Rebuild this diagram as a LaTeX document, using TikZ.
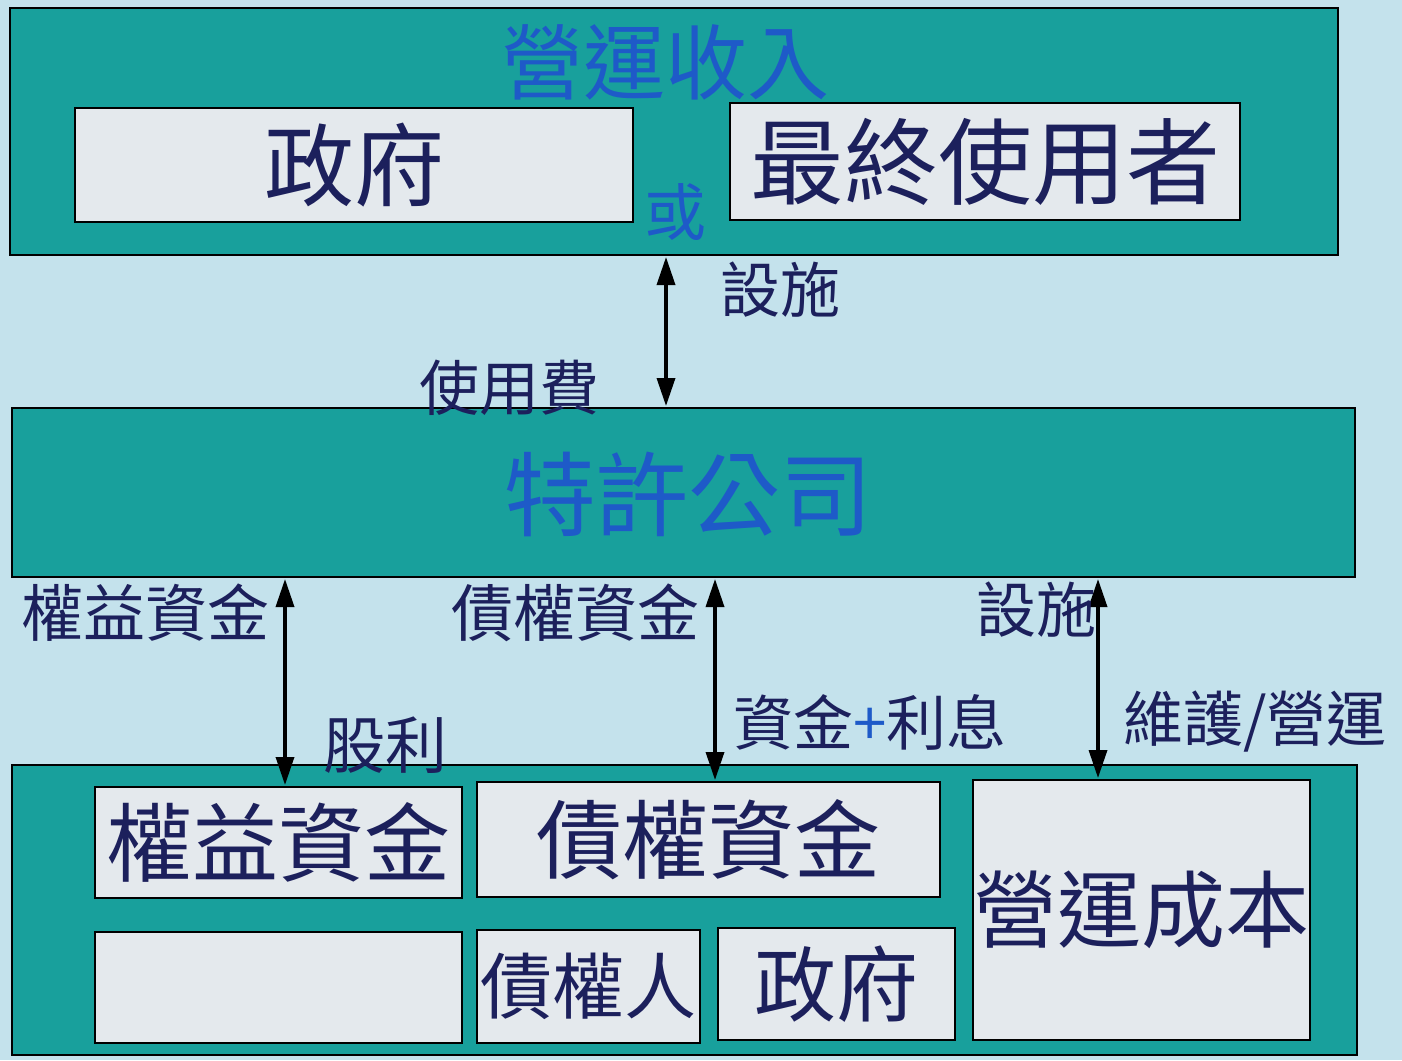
\documentclass[tikz,border=0pt]{standalone}
\usepackage{fontspec}
\newfontfamily\cjk{Noto Sans CJK TC}
\usetikzlibrary{arrows.meta}
\definecolor{bgblue}{RGB}{196,226,236}
\definecolor{teal1}{RGB}{24,160,156}
\definecolor{boxgray}{RGB}{228,233,237}
\definecolor{titleblue}{RGB}{30,90,200}
\definecolor{navy}{RGB}{28,32,92}
\tikzset{
  tealbox/.style={draw=black, line width=2pt, fill=teal1, inner sep=0pt},
  graybox/.style={draw=black, line width=2pt, fill=boxgray, inner sep=0pt, text=navy, font=\cjk},
  title/.style={text=titleblue, font=\cjk, inner sep=0pt},
  lbl/.style={text=navy, font=\cjk, inner sep=0pt},
  biarrow/.style={line width=3.5pt, draw=black, {Triangle[length=28pt,width=18pt]}-{Triangle[length=28pt,width=18pt]}, shorten <=1pt, shorten >=1pt}
}
\newcommand{\fsz}[1]{\fontsize{#1}{#1}\selectfont}
\begin{document}
\begin{tikzpicture}[x=1pt,y=-1pt]
\useasboundingbox (0,0) rectangle (1402,1060);
\fill[bgblue] (0,0) rectangle (1402,1060);

% top box
\node[tealbox, minimum width=1328pt, minimum height=247pt] (top) at (674,131.5) {};
\node[title] (ttop) at (665,62) {\fsz{82}營運收入};
\node[graybox, minimum width=558pt, minimum height=114pt] (gov1) at (354,165) {\fsz{90}政府};
\node[graybox, minimum width=510pt, minimum height=117pt] (user) at (985,161.5) {\fsz{94}最終使用者};
\node[title] (or) at (675,212) {\fsz{62}或};

% middle box
\node[tealbox, minimum width=1343pt, minimum height=169pt] (mid) at (683.5,492.5) {};
\node[title] (tmid) at (688,494) {\fsz{92}特許公司};

% bottom box
\node[tealbox, minimum width=1345pt, minimum height=290pt] (bot) at (684.5,910) {};
\node[graybox, minimum width=367pt, minimum height=111pt] (eq) at (278.5,842.5) {\fsz{86}權益資金};
\node[graybox, minimum width=463pt, minimum height=115pt] (debt) at (708.5,839.5) {\fsz{86}債權資金};
\node[graybox, minimum width=337pt, minimum height=260pt] (opc) at (1141.5,910) {\fsz{84}營運成本};
\node[graybox, minimum width=367pt, minimum height=111pt] (empty) at (278.5,987.5) {};
\node[graybox, minimum width=223pt, minimum height=113pt] (cred) at (588.5,986.5) {\fsz{72}債權人};
\node[graybox, minimum width=237pt, minimum height=112pt] (gov2) at (836.5,984) {\fsz{82}政府};

% connectors
\draw[biarrow] (top.south -| 666,0) -- (mid.north -| 666,0);
\draw[biarrow] (mid.south -| 285,0) -- (eq.north -| 285,0);
\draw[biarrow] (mid.south -| 715,0) -- (debt.north -| 715,0);
\draw[biarrow] (mid.south -| 1098,0) -- (opc.north -| 1098,0);

% labels
\node[lbl] (l1) at (780,290) {\fsz{60}設施};
\node[lbl] (l2) at (509,388) {\fsz{60}使用費};
\node[lbl] (l3) at (145,613) {\fsz{62}權益資金};
\node[lbl] (l4) at (575,613) {\fsz{62}債權資金};
\node[lbl] (l5) at (1036,610) {\fsz{60}設施};
\node[lbl] (l6) at (385,745) {\fsz{62}股利};
\node[lbl] (l7) at (870,722) {\fsz{60}資金{\color{titleblue}+}利息};
\node[lbl] (l8) at (1255,722) {\fsz{60}維護/營運};
\end{tikzpicture}
\end{document}
